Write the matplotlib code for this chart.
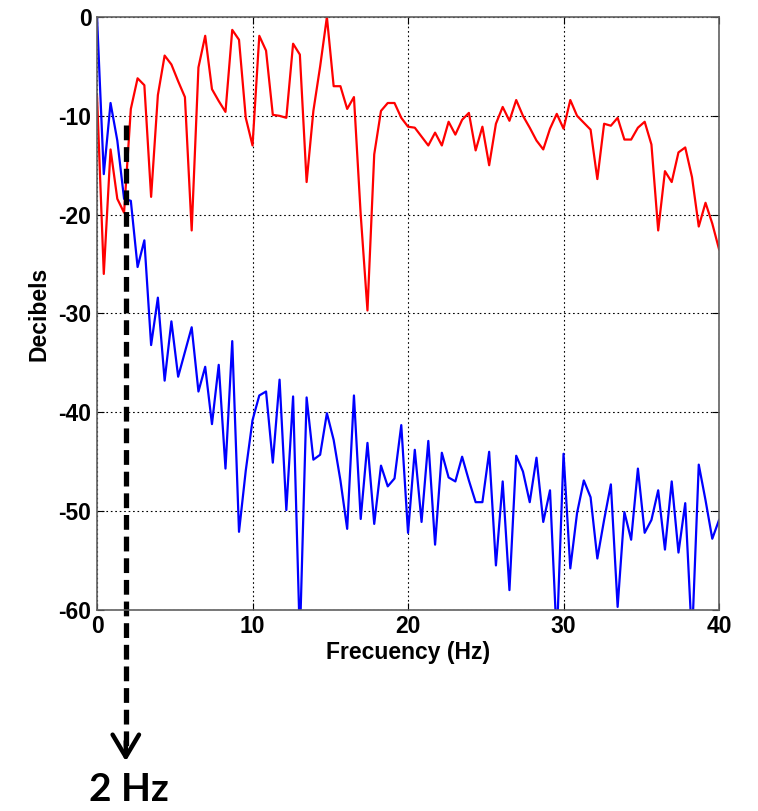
import numpy as np
import matplotlib.pyplot as plt

# Frecuencias (Hz): 93 muestras de 0 a 40 Hz
freqs = np.linspace(0, 40, 93)

# Espectro en rojo (dB)
red_db = [-8.0, -26.0, -13.4, -18.4, -19.8, -9.3, -6.2, -6.9, -18.2, -7.9,
          -3.9, -4.8, -6.5, -8.1, -21.6, -5.1, -1.9, -7.3, -8.5, -9.6,
          -1.3, -2.3, -10.2, -13.0, -1.9, -3.4, -9.9, -10.0, -10.2, -2.7,
          -3.8, -16.7, -9.5, -5.0, 0.0, -7.0, -7.0, -9.3, -8.1, -20.0,
          -29.7, -13.9, -9.5, -8.7, -8.7, -10.2, -11.1, -11.2, -12.1, -13.0,
          -11.7, -13.0, -10.6, -11.9, -10.4, -9.7, -13.5, -11.1, -15.0, -10.8,
          -9.1, -10.5, -8.4, -10.0, -11.2, -12.5, -13.4, -11.3, -9.8, -11.3,
          -8.4, -10.0, -10.7, -11.4, -16.4, -10.8, -11.0, -10.2, -12.4, -12.4,
          -11.2, -10.6, -12.9, -21.6, -15.6, -16.7, -13.7, -13.2, -16.2, -21.2,
          -18.8, -20.9, -23.5]

# Espectro en azul (dB)
blue_db = [0.0, -15.9, -8.7, -12.5, -18.4, -18.6, -25.3, -22.6, -33.2, -28.4,
           -36.8, -30.8, -36.4, -33.9, -31.4, -37.9, -35.4, -41.2, -35.2, -45.7,
           -32.8, -52.1, -45.9, -40.8, -38.3, -37.9, -45.1, -36.7, -49.9, -38.4,
           -63.0, -38.5, -44.8, -44.3, -40.1, -42.8, -46.9, -51.8, -38.3, -50.8,
           -43.1, -51.3, -45.4, -47.5, -46.7, -41.3, -52.2, -43.8, -51.1, -42.9,
           -53.4, -44.1, -46.6, -47.0, -44.5, -46.9, -49.1, -49.1, -44.0, -55.5,
           -47.0, -58.0, -44.4, -46.0, -49.1, -44.6, -51.1, -47.9, -63.0, -44.2,
           -55.8, -50.2, -46.9, -48.6, -54.8, -50.9, -47.3, -59.7, -50.1, -52.9,
           -45.7, -52.2, -50.9, -47.9, -53.9, -47.0, -54.2, -49.2, -63.0, -45.3,
           -48.9, -52.8, -50.9]

x_ticks = [0, 10, 20, 30, 40]
y_ticks = [0, -10, -20, -30, -40, -50, -60]
marker_hz = 1.85
marker_label = '2 Hz'

plt.rcParams['font.family'] = ['Liberation Sans', 'DejaVu Sans']
plt.rcParams['axes.unicode_minus'] = False

fig = plt.figure(figsize=(7.58, 8.11), dpi=100)
ax = fig.add_axes([0.128, 0.248, 0.8206, 0.731])

ax.plot(freqs, red_db, color='#ff0000', lw=1.6)
ax.plot(freqs, blue_db, color='#0000ff', lw=1.6)

ax.set_xlim(0, 40)
ax.set_ylim(-60, 0)
ax.set_xticks(x_ticks)
ax.set_yticks(y_ticks)
ax.grid(True, color='black', linestyle=(0, (1.5, 2.5)), linewidth=0.8)

ax.tick_params(direction='in', length=5, width=0.8, top=True, right=True,
               labelsize=16.5, pad=4)
for lab in ax.get_xticklabels() + ax.get_yticklabels():
    lab.set_fontweight('bold')
for sp in ax.spines.values():
    sp.set_color('#606060')
    sp.set_linewidth(1.2)

ax.set_xlabel('Frecuency (Hz)', fontsize=16.5, fontweight='bold', labelpad=2)
ax.set_ylabel('Decibels', fontsize=16.5, fontweight='bold', labelpad=6)

# Flecha discontinua que marca los 2 Hz
ax.plot([marker_hz, marker_hz], [-10.9, -74.0], color='black', lw=3.8,
        dashes=(2.8, 1.3), clip_on=False, solid_capstyle='butt')
ax.annotate('', xy=(marker_hz, -75.6), xytext=(marker_hz, -73.0),
            arrowprops=dict(arrowstyle='->,head_length=1.6,head_width=0.95',
                            color='black', lw=3.2),
            annotation_clip=False)
ax.annotate(marker_label, xy=(marker_hz, -75.6), xytext=(2, -18),
            textcoords='offset points', ha='center', va='center',
            fontsize=28, fontweight='bold', family=['Lato', 'DejaVu Sans'],
            annotation_clip=False)

fig.savefig('out.png', dpi=100)
